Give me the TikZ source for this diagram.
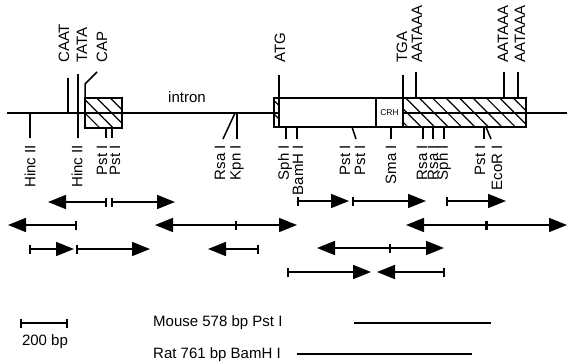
\documentclass[tikz,border=0pt]{standalone}
\usepackage{fontspec}
\setmainfont{Liberation Sans}
\usetikzlibrary{arrows.meta,patterns.meta}
\begin{document}
\begin{tikzpicture}[x=1pt,y=-1pt,
  every node/.style={font=\fontsize{15}{18}\selectfont, inner sep=0pt},
  mainline/.style={line width=1.8pt},
  gbox/.style={line width=1.8pt, fill=white},
  hatch/.style={line width=1.8pt, pattern={Lines[angle=-45,distance=9.5pt,line width=1.2pt]}},
  site/.style={line width=1.5pt},
  lab/.style={rotate=90, anchor=east},
  toplab/.style={rotate=90, anchor=west},
  seg/.style={line width=1.7pt},
  ra/.style={seg, -{Triangle[length=18pt,width=14pt]}},
  bra/.style={seg, {Bar[width=9pt]}-{Triangle[length=18pt,width=14pt]}},
  tbar/.style={seg, {Bar[width=9pt]}-{Bar[width=9pt]}},
  thicktick/.style={line width=3pt}
]
\useasboundingbox (0,0) rectangle (568,364);

% main line
\coordinate (L0) at (7,113);
\coordinate (L1) at (567,113);
\draw[mainline] (L0) -- (L1);

% upstream features
\draw[site] (68,78) -- (68,113);
\draw[site] (78,74) -- (78,138);
\draw[site] (97,72) -- (85,84) -- (85,98);
\draw[site] (30,113) -- (30,138);
\draw[site] (106,128) -- (106,138);
\draw[site] (112,128) -- (112,138);
\draw[hatch] (85,98) rectangle (122,128);

% intron
\node (intron) at (187,97) {intron};
\draw[site] (235,113) -- (223,139);
\draw[site] (237,113) -- (237,139);

% gene box
\draw[hatch] (274,98) rectangle (279,127);
\draw[gbox] (279,98) rectangle (376,127);
\draw[gbox] (376,98) rectangle (403,127);
\node[font=\fontsize{8.5}{10}\selectfont] (crh) at (389.5,112.5) {CRH};
\draw[hatch] (403,98) rectangle (526,127);

% sites above gene
\draw[site] (279,75) -- (279,98);
\draw[site] (403,75) -- (403,98);
\draw[site] (416,72) -- (416,98);
\draw[site] (504,72) -- (504,98);
\draw[site] (518,72) -- (518,98);

% sites below gene
\draw[site] (286,127) -- (286,139);
\draw[site] (297,127) -- (297,139);
\draw[site] (352,127) -- (356,139);
\draw[site] (391,127) -- (391,139);
\draw[site] (423,127) -- (423,139);
\draw[site] (433,127) -- (433,139);
\draw[site] (444,127) -- (444,139);
\draw[site] (484,127) -- (484,139);
\draw[site] (486,127) -- (491,139);

% top labels
\node[toplab] (caat) at (64,63) {CAAT};
\node[toplab] (tata) at (82,63) {TATA};
\node[toplab] (cap) at (102,63) {CAP};
\node[toplab] (atg) at (280,63) {ATG};
\node[toplab] (tga) at (402,63) {TGA};
\node[toplab] (aat1) at (417,63) {AATAAA};
\node[toplab] (aat2) at (503,63) {AATAAA};
\node[toplab] (aat3) at (520,63) {AATAAA};

% bottom labels
\node[lab] (h1) at (30,145) {Hinc II};
\node[lab] (h2) at (77,145) {Hinc II};
\node[lab] (p1) at (102,145) {Pst I};
\node[lab] (p2) at (115,145) {Pst I};
\node[lab] (r1) at (220,145) {Rsa I};
\node[lab] (k1) at (237,145) {Kpn I};
\node[lab] (s1) at (285,145) {Sph I};
\node[lab] (b1) at (298,145) {BamH I};
\node[lab] (p3) at (345,145) {Pst I};
\node[lab] (p4) at (360,145) {Pst I};
\node[lab] (sm) at (391,145) {Sma I};
\node[lab] (r2) at (422,145) {Rsa I};
\node[lab] (r3) at (433,145) {Rsa I};
\node[lab] (s2) at (444,145) {Sph I};
\node[lab] (p5) at (480,145) {Pst I};
\node[lab] (e1) at (497,145) {EcoR I};

% sequencing arrows, row 1
\coordinate (a1) at (107,202); \coordinate (a1l) at (48,202);
\coordinate (a1b) at (111,202); \coordinate (a1r) at (175,202);
\draw[bra] (a1) -- (a1l);
\draw[bra] (a1b) -- (a1r);
\coordinate (b1s) at (297,201); \coordinate (b1m) at (349,201);
\coordinate (b1t) at (352,201); \coordinate (b1e) at (426,201);
\draw[bra] (b1s) -- (b1m);
\draw[bra] (b1t) -- (b1e);
\coordinate (c1s) at (446,201); \coordinate (c1e) at (506,201);
\draw[bra] (c1s) -- (c1e);

% row 2
\coordinate (a2s) at (77,225); \coordinate (a2e) at (8,225);
\draw[bra] (a2s) -- (a2e);
\coordinate (b2m) at (237,225); \coordinate (b2l) at (155,225); \coordinate (b2r) at (297,225);
\draw[bra] (b2m) -- (b2l);
\draw[ra] (b2m) -- (b2r);
\coordinate (c2m) at (486,225); \coordinate (c2l) at (406,225); \coordinate (c2r) at (567,225);
\draw[ra] (c2m) -- (c2l);
\draw[ra] (c2m) -- (c2r);
\draw[thicktick] ([yshift=4.5pt]c2m) -- ([yshift=-4.5pt]c2m);

% row 3
\coordinate (a3s) at (29,249); \coordinate (a3m) at (74,249);
\coordinate (a3t) at (76,249); \coordinate (a3e) at (150,249);
\draw[bra] (a3s) -- (a3m);
\draw[bra] (a3t) -- (a3e);
\coordinate (b3s) at (259,249); \coordinate (b3e) at (208,249);
\draw[bra] (b3s) -- (b3e);
\coordinate (c3m) at (391,248); \coordinate (c3l) at (317,248); \coordinate (c3r) at (444,248);
\draw[bra] (c3m) -- (c3l);
\draw[ra] (c3m) -- (c3r);

% row 4
\coordinate (a4s) at (287,272); \coordinate (a4e) at (371,272);
\draw[bra] (a4s) -- (a4e);
\coordinate (b4s) at (445,272); \coordinate (b4e) at (377,272);
\draw[bra] (b4s) -- (b4e);

% scale bar
\coordinate (sb0) at (20,323); \coordinate (sb1) at (68,323);
\draw[tbar] (sb0) -- (sb1);
\node (sbl) at (45,342) {200 bp};

% probes
\node[anchor=west] (mouse) at (153,323) {Mouse 578 bp Pst I};
\coordinate (m0) at (354,323); \coordinate (m1) at (491,323);
\draw[seg] (m0) -- (m1);
\node[anchor=west] (rat) at (153,355) {Rat 761 bp BamH I};
\coordinate (q0) at (297,354); \coordinate (q1) at (472,354);
\draw[seg] (q0) -- (q1);
\end{tikzpicture}
\end{document}
